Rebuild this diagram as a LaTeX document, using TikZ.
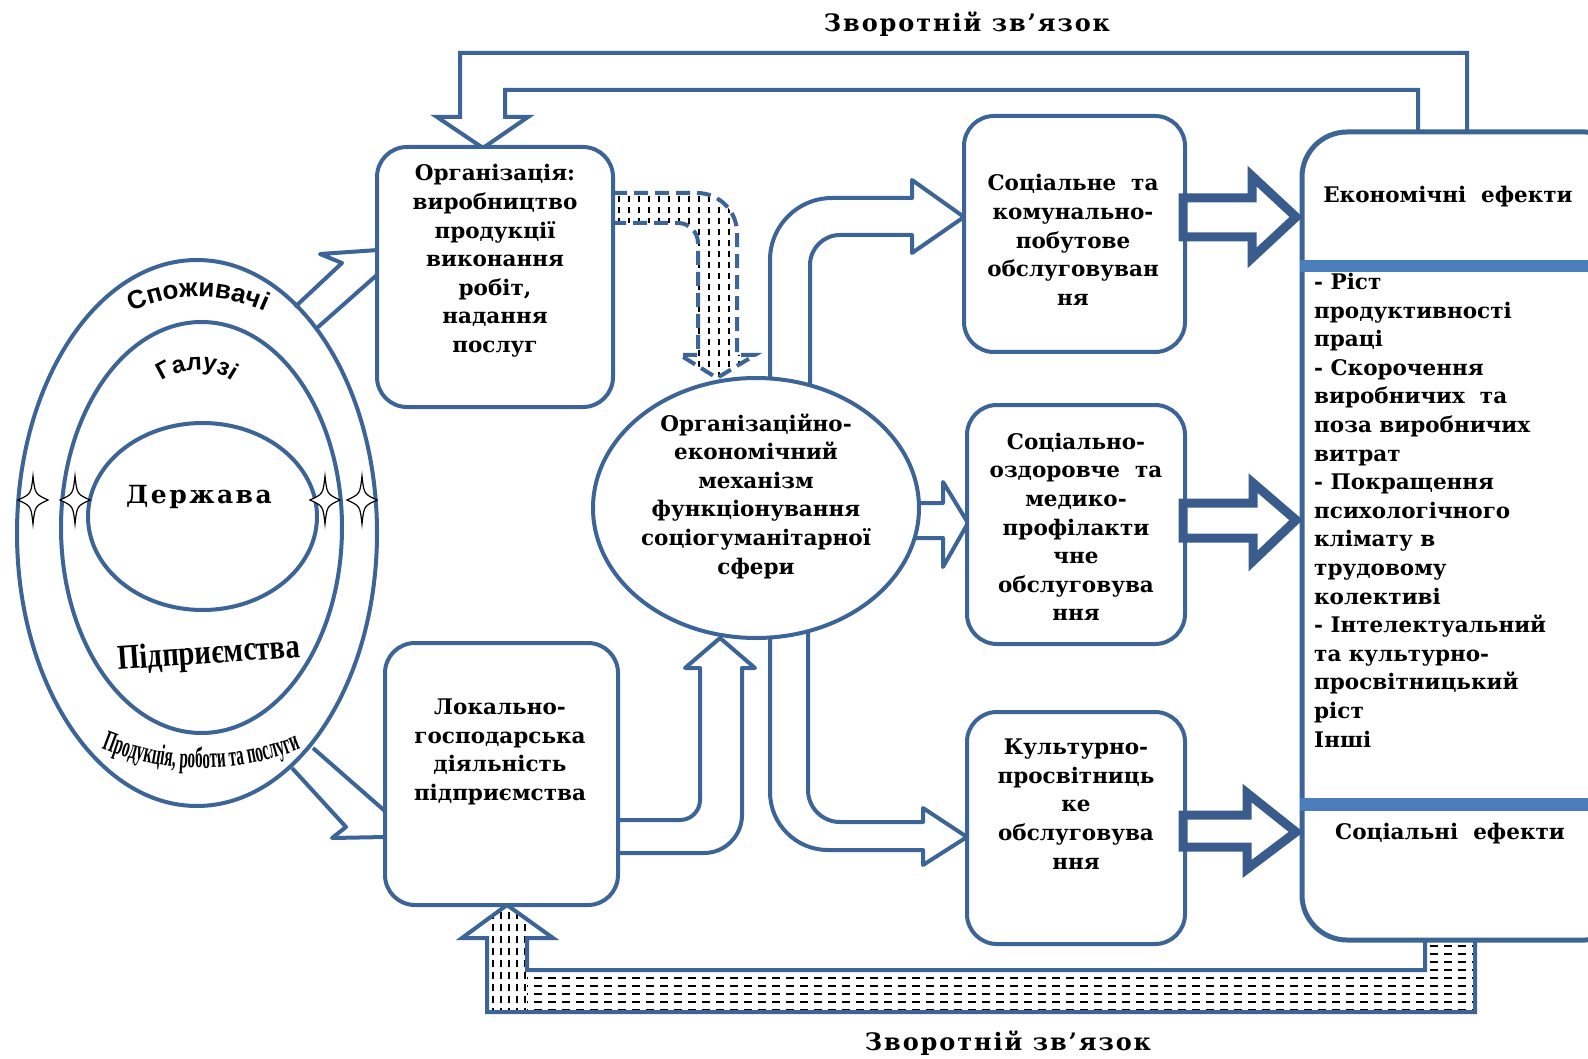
\documentclass[tikz,border=0pt]{standalone}
\usepackage{fontspec}
\setmainfont{DejaVu Serif}
\newfontfamily\ringsans{Liberation Sans}
\newfontfamily\ringserif[FakeStretch=0.82]{Liberation Serif}
\newfontfamily\ringcond[FakeStretch=0.52]{Liberation Serif}
\usetikzlibrary{shapes.geometric,decorations.text}
\definecolor{lineblue}{RGB}{60,100,150}
\definecolor{darkblue}{RGB}{58,92,140}
\definecolor{barblue}{RGB}{74,126,187}
\newcommand\consfont{\ringsans\bfseries\fontsize{26}{26}\selectfont}
\newcommand\indfont{\ringsans\bfseries\fontsize{24}{24}\selectfont}
\newcommand\prodfont{\ringcond\bfseries\fontsize{29}{29}\selectfont}
\begin{document}
\begin{tikzpicture}[x=1pt,y=-1pt,
  outl/.style={draw=lineblue, line width=4pt, line join=round},
  ring/.style={draw=lineblue, line width=4pt},
  boxshape/.style={outl, fill=white, rectangle, rounded corners=30pt, inner sep=0pt},
  txt/.style={font=\bfseries\fontsize{21.5}{28.6}\selectfont, align=center, inner sep=0pt},
  thickarrow/.style={draw=darkblue, line width=9pt, fill=white, line join=miter, miter limit=10},
  hatch/.style={draw=black, line width=1.2pt},
  starline/.style={draw=black, line width=1.2pt, fill=white}]
\clip (0,0) rectangle (1588,1059);
\fill[white] (0,0) rectangle (1588,1059);

% ---- nested rings on the left ----
\draw[ring] (197,533) ellipse[x radius=180, y radius=273];
\draw[ring] (201.5,527.5) ellipse[x radius=140.5, y radius=205.5];
\draw[ring] (202.5,516.5) ellipse[x radius=114.5, y radius=93.5];

\foreach \sx in {33,75,325,362} {
  \begin{scope}[shift={(\sx,500)}]
    \draw[starline] (0,-24) .. controls (2,-6) .. (15,0) .. controls (2,6) .. (0,24)
      .. controls (-2,6) .. (-15,0) .. controls (-2,-6) .. (0,-24) -- cycle;
  \end{scope}
}

\path[decorate, decoration={text along path, text align=center,
  text={|\consfont|Споживачі}}]
  (198,455) ++(215:158) arc[start angle=215, end angle=325, radius=158];
\path[decorate, decoration={text along path, text align=center,
  text={|\indfont|Галузі}}]
  (197,432) ++(190:62) arc[start angle=190, end angle=350, radius=62];
\path[decorate, decoration={text along path, text align=center,
  text={|\prodfont|Продукція, роботи та послуги}}]
  (201,500) ++(132:268) arc[start angle=132, end angle=48, radius=268];

\node[font=\bfseries\fontsize{25}{25}\selectfont\addfontfeature{LetterSpace=10}, inner sep=0pt] (state) at (199,497) {Держава};
\node[font=\ringserif\bfseries\fontsize{35}{35}\selectfont, rotate=4, inner sep=0pt] (ent) at (209,655) {Підприємства};

% ---- arrows from the rings to the two activity boxes ----
\draw[outl] (295,307) -- (342,263) -- (320,254) -- (378,250);
\draw[outl] (317,328) -- (378,274);
\draw[outl] (313,748) -- (386,812);
\draw[outl] (292,768) -- (346,827) -- (332,838) -- (386,837);

% ---- feedback, top ----
\draw[outl, line join=miter] (1467,134) -- (1467,53) -- (460,53) -- (460,117) -- (437,117)
  -- (483,148) -- (528,117) -- (505,117) -- (505,90) -- (1418,90) -- (1418,134);

% ---- feedback, bottom (hatched) ----
\begin{scope}
  \clip (527,970) rectangle (1475,1012) (1425,940) rectangle (1475,970);
  \foreach \y in {946,954,...,1010}
    \draw[hatch, dash pattern=on 8pt off 6pt] (520,\y) -- (1480,\y);
\end{scope}
\begin{scope}
  \clip (487,1012) -- (487,938) -- (462,938) -- (507,905) -- (553,938) -- (527,938) -- (527,1012) -- cycle;
  \foreach \x in {493,501,...,525}
    \draw[hatch, dash pattern=on 7pt off 5pt] (\x,900) -- (\x,1015);
\end{scope}
\draw[outl, line join=miter] (1425,938) -- (1425,970) -- (527,970) -- (527,938) -- (553,938)
  -- (507,905) -- (462,938) -- (487,938) -- (487,1012) -- (1475,1012) -- (1475,938);

% ---- dashed, dotted arrow from production to the mechanism ----
\begin{scope}
  \clip (613,193) -- (697,193) arc[start angle=270, end angle=360, radius=40] -- (737,355)
    -- (755,355) -- (717,378) -- (680,355) -- (698,355) -- (698,243)
    arc[start angle=0, end angle=-90, radius=20] -- (613,223) -- cycle;
  \foreach \x in {619,629,...,759}
    \draw[hatch, dash pattern=on 6pt off 5pt] (\x,185) -- (\x,385);
\end{scope}
\draw[draw=lineblue, line width=4pt, dash pattern=on 14pt off 7pt]
  (613,193) -- (697,193) arc[start angle=270, end angle=360, radius=40] -- (737,355)
  -- (755,355) -- (717,378) -- (680,355) -- (698,355) -- (698,243)
  arc[start angle=0, end angle=-90, radius=20] -- (613,223);

% ---- curved arrows from the mechanism to the services ----
\draw[outl, fill=white] (770,400) -- (770,260) arc[start angle=180, end angle=270, radius=62]
  -- (912,198) -- (912,180) -- (964,217) -- (912,253) -- (912,235) -- (840,235)
  arc[start angle=270, end angle=180, radius=30] -- (810,400);
\draw[outl, fill=white] (770,620) -- (770,792) arc[start angle=180, end angle=90, radius=58]
  -- (923,850) -- (923,865) -- (967,837) -- (923,808) -- (923,822) -- (840,822)
  arc[start angle=90, end angle=180, radius=32] -- (808,620);
\draw[outl, fill=white] (905,503) -- (943,503) -- (943,482) -- (968,523) -- (943,567)
  -- (943,538) -- (905,538);
\draw[outl, fill=white] (612,820) -- (680,820) arc[start angle=90, end angle=0, radius=20]
  -- (700,668) -- (685,668) -- (720,638) -- (755,668) -- (742,668) -- (742,815)
  arc[start angle=0, end angle=90, radius=38] -- (612,853);

% ---- boxes ----
\node[boxshape, minimum width=236pt, minimum height=260pt] (org) at (495,277) {};
\node[boxshape, minimum width=233pt, minimum height=262pt] (local) at (501.5,774) {};
\node[boxshape, minimum width=221pt, minimum height=236pt] (soc) at (1074.5,234) {};
\node[boxshape, minimum width=218pt, minimum height=239pt] (health) at (1076,524.5) {};
\node[boxshape, minimum width=218pt, minimum height=232pt] (cult) at (1076,828) {};
\node[outl, fill=white, ellipse, minimum width=326pt, minimum height=260pt, inner sep=0pt] (mech) at (756,508) {};

% ---- effects box ----
\draw[draw=lineblue, line width=5pt, fill=white, rounded corners=45pt] (1302,132) rectangle (1630,940);
\fill[barblue] (1300,260) rectangle (1600,272);
\fill[barblue] (1300,798) rectangle (1600,811);

\draw[thickarrow] (1183,198) -- (1252,198) -- (1252,176) -- (1296,217) -- (1252,258) -- (1252,237) -- (1183,237) -- cycle;
\draw[thickarrow] (1183,503) -- (1253,503) -- (1253,483) -- (1296,520) -- (1253,561) -- (1253,538) -- (1183,538) -- cycle;
\draw[thickarrow] (1183,815) -- (1247,815) -- (1247,793) -- (1296,832) -- (1247,869) -- (1247,847) -- (1183,847) -- cycle;

% ---- texts ----
\node[font=\bfseries\fontsize{24}{24}\selectfont\addfontfeature{LetterSpace=8}, inner sep=0pt] (fbtop) at (967,24) {Зворотній зв’язок};
\node[font=\bfseries\fontsize{24}{24}\selectfont\addfontfeature{LetterSpace=8}, inner sep=0pt] (fbbot) at (1008,1043) {Зворотній зв’язок};

\node[txt] (orgtxt) at (495,261) {Організація:\\виробництво\\продукції\\виконання\\робіт,\\надання\\послуг};
\node[txt] (localtxt) at (500,752) {Локально-\\господарська\\діяльність\\підприємства};
\node[txt] (soctxt) at (1073,240) {Соціальне\ \ та\\комунально-\\побутове\\обслуговуван\\ня};
\node[txt] (healthtxt) at (1076,527) {Соціально-\\оздоровче\ \ та\\медико-\\профілакти\\чне\\обслуговува\\ння};
\node[txt] (culttxt) at (1076,804) {Культурно-\\просвітниць\\ке\\обслуговува\\ння};
\node[txt] (mechtxt) at (756,496) {Організаційно-\\економічний\\механізм\\функціонування\\соціогуманітарної\\сфери};

\node[txt] (econ) at (1448,197) {Економічні\ \ ефекти};
\node[txt] (soceff) at (1450,834) {Соціальні\ \ ефекти};
\node[txt, align=left, anchor=north west] (list) at (1314,273) {- Ріст\\продуктивності\\праці\\- Скорочення\\виробничих\ \ та\\поза виробничих\\витрат\\- Покращення\\психологічного\\клімату в\\трудовому\\колективі\\- Інтелектуальний\\та культурно-\\просвітницький\\ріст\\Інші};
\end{tikzpicture}
\end{document}
